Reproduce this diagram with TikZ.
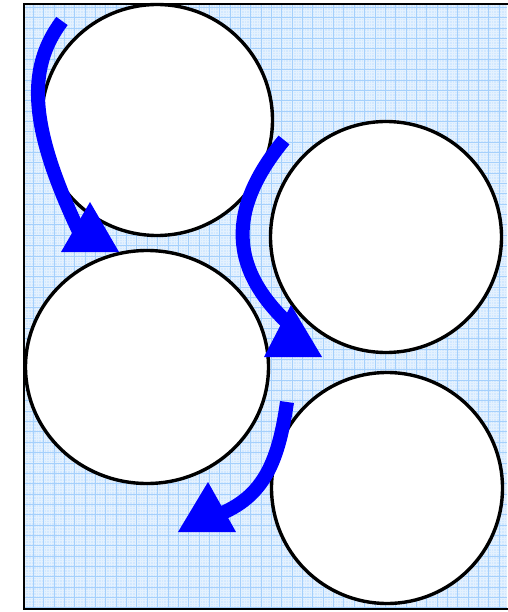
\documentclass[tikz,border=0pt]{standalone}
\usepackage{xcolor}
\usepackage{tikz}
\usetikzlibrary{shapes.geometric, positioning}
\definecolor{PaperBlue}{RGB}{210,232,255}
\definecolor{GridBlue}{RGB}{165,208,252}
\definecolor{ArrowBlue}{RGB}{0,0,255}

\begin{document}
\begin{tikzpicture}[x=1pt, y=-1pt,
    ball/.style={circle, draw=black, line width=3.4pt, fill=white, minimum size=231pt, inner sep=0pt},
    flow/.style={draw=ArrowBlue, line width=14pt},
    wedge/.style={fill=ArrowBlue}]
    \useasboundingbox (0,0) rectangle (507,612);

    % 网格纸背景
    \fill[PaperBlue] (24,4) rectangle (507,609);
    \begin{scope}
        \clip (24,4) rectangle (507,609);
        \foreach \x in {23,25.6,...,510} \draw[GridBlue!30, line width=0.3pt] (\x,4) -- (\x,609);
        \foreach \y in {7.5,10.1,...,612} \draw[GridBlue!30, line width=0.3pt] (24,\y) -- (507,\y);
        \foreach \x in {33.35,43.7,...,510} \draw[GridBlue, line width=0.8pt] (\x,4) -- (\x,609);
        \foreach \y in {7.5,17.85,...,612} \draw[GridBlue, line width=0.8pt] (24,\y) -- (507,\y);
    \end{scope}
    \draw[line width=1.2pt] (508,4) -- (24,4) -- (24,609) -- (508,609);

    % 四个圆
    \node[ball] (topleft) at (157,120) {};
    \node[ball] (topright) at (386,237) {};
    \node[ball, ellipse, minimum width=243pt, minimum height=233pt] (midleft) at (147,367) {};
    \node[ball] (lowright) at (387,488) {};

    % 箭头起点与尖端
    \coordinate (s1) at (62,21);
    \coordinate (e1) at (82,238);
    \coordinate (s2) at (284,140);
    \coordinate (e2) at (292,327);
    \coordinate (s3) at (287,402);
    \coordinate (e3) at (212,517);

    % 弯曲箭头
    \draw[flow] (s1) .. controls (25,70) and (30,130) .. (e1);
    \fill[wedge] (90,202) -- (61,252) -- (119,252) -- cycle;

    \draw[flow] (s2) .. controls (235,200) and (220,262) .. (e2);
    \fill[wedge] (291,305) -- (264,357) -- (322,357) -- cycle;

    \draw[flow] (s3) .. controls (278,465) and (262,500) .. (e3);
    \fill[wedge] (208,482) -- (178,532) -- (236,532) -- cycle;
\end{tikzpicture}
\end{document}
